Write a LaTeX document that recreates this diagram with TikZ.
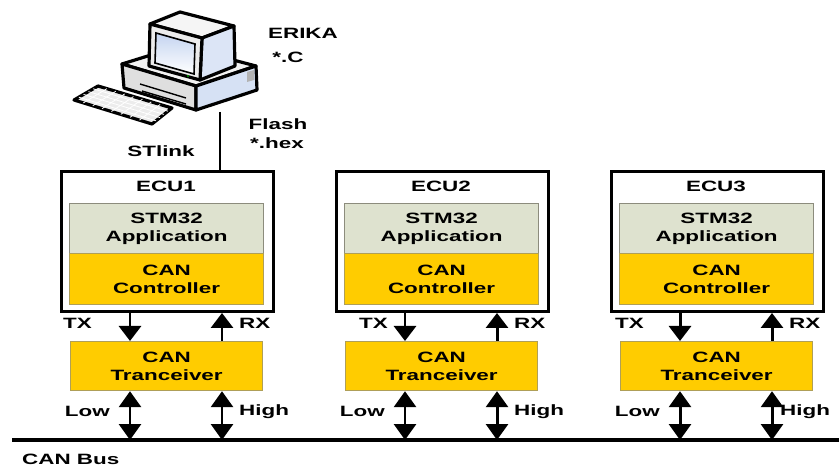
\documentclass[tikz,border=0pt]{standalone}
\usepackage{fontspec}
\setmainfont[FakeStretch=1.5]{Liberation Sans}
\usetikzlibrary{calc,arrows.meta}
\definecolor{canyellow}{RGB}{255,204,0}
\definecolor{appgrey}{RGB}{222,226,207}
\definecolor{boxedge}{RGB}{140,140,125}
\definecolor{screenblue}{RGB}{196,212,240}

\begin{document}
\begin{tikzpicture}[x=1bp,y=-1bp,inner sep=0pt,font=\fontsize{15}{18}\selectfont\bfseries]
\tikzstyle{ecubox}=[draw,line width=3pt,fill=white,minimum width=212bp,minimum height=140bp,anchor=north west]
\tikzstyle{appbox}=[draw=boxedge,line width=1.2pt,fill=appgrey,minimum width=194bp,minimum height=50bp,anchor=north west,align=center]
\tikzstyle{canbox}=[appbox,fill=canyellow,draw=boxedge!70!canyellow]
\tikzstyle{sig}=[line width=3pt,-{Triangle[width=22bp,length=15bp]}]
\tikzstyle{both}=[line width=3pt,{Triangle[width=22bp,length=16bp]}-{Triangle[width=22bp,length=16bp]}]
\tikzstyle{pcline}=[draw=black,line width=3.2pt,line join=round]
\useasboundingbox (0,0) rectangle (839,468);
% ========= host pc
% case
\filldraw[pcline,fill=gray!10] (122,64) -- (180,46) -- (256,66) -- (196,86) -- cycle;
\filldraw[pcline,fill=gray!25] (122,64) -- (196,86) -- (196,110) -- (124,88) -- cycle;
\filldraw[pcline,fill=screenblue!70] (196,86) -- (256,66) -- (257,90) -- (196,110) -- cycle;
\draw[line width=1.4pt] (140,84) -- (186,98) (142,91) -- (186,104);
\fill[gray!60] (247,72) -- (254,70) -- (254,80) -- (247,82) -- cycle;
% monitor
\filldraw[pcline,fill=gray!8] (150,24) -- (180,12) -- (234,26) -- (202,38) -- cycle;
\filldraw[pcline,fill=screenblue!60] (202,38) -- (234,26) -- (235,66) -- (200,80) -- cycle;
\filldraw[pcline,fill=gray!15] (150,24) -- (202,38) -- (200,80) -- (149,66) -- cycle;
\shade[top color=screenblue,bottom color=white] (156,33) -- (195,44) -- (194,74) -- (155,63) -- cycle;
\draw[line width=1.6pt] (156,33) -- (195,44) -- (194,74) -- (155,63) -- cycle;
\fill[green!60!black] (188,76) circle (1.2);
% keyboard
\filldraw[pcline,fill=gray!15] (74,100) -- (98,86) -- (172,108) -- (152,124) -- cycle;
\foreach \t in {0.2,0.4,0.6,0.8}
  \draw[white,line width=0.8pt] ($(74,100)!\t!(98,86)$) -- ($(152,124)!\t!(172,108)$);
\foreach \t in {0.12,0.24,...,0.9}
  \draw[white,line width=0.8pt] ($(74,100)!\t!(152,124)$) -- ($(98,86)!\t!(172,108)$);
\coordinate (pc) at (220,112);
\node (erika) at (303,33) {ERIKA};
\node (srcfile) at (288,57) {*.C};
\node (flash) at (278,124) {Flash};
\node (hexfile) at (277,143) {*.hex};
\node (stlink) at (161,151) {STlink};
% ========= bus
\coordinate (busL) at (12,440);
\coordinate (busR) at (839,440);
\draw[line width=4pt] (busL) -- (busR);
\node (busname) [anchor=west] at (22,459) {CAN Bus};
% ========= ecus
\foreach \x/\n/\txgap/\higap in {60/1/38/17, 335/2/17/17, 610/3/36/8} {
  \node (ecu\n) [ecubox] at (\x,170) {};
  \node (name\n) at (\x+106,186) {ECU\n};
  \node (app\n) [appbox] at (\x+9,203) {STM32\\Application};
  \node (ctrl\n) [canbox,minimum height=51bp] at (\x+9,253) {CAN\\Controller};
  \node (trx\n) [canbox,minimum width=192bp,minimum height=49bp] at (\x+10,341) {CAN\\Tranceiver};
  \coordinate (tx\n) at (\x+70,341);
  \coordinate (rx\n) at (\x+162,341);
  % controller <-> tranceiver
  \draw[sig] (tx\n |- ecu\n.south) -- (tx\n);
  \draw[sig] (rx\n) -- (rx\n |- ecu\n.south);
  \path (tx\n) ++(-\txgap,-18) node[anchor=east] (txlab\n) {TX};
  \path (rx\n) ++(17,-18) node[anchor=west] (rxlab\n) {RX};
  % tranceiver <-> bus
  \draw[both] (tx\n |- trx\n.south) -- (tx\n |- busL);
  \draw[both] (rx\n |- trx\n.south) -- (rx\n |- busL);
  \path (tx\n |- trx\n.south) ++(-20,20) node[anchor=east] (low\n) {Low};
  \path (rx\n |- trx\n.south) ++(\higap,20) node[anchor=west] (high\n) {High};
}
\draw[line width=2.6pt] (pc) -- (pc |- ecu1.north);
\end{tikzpicture}
\end{document}
